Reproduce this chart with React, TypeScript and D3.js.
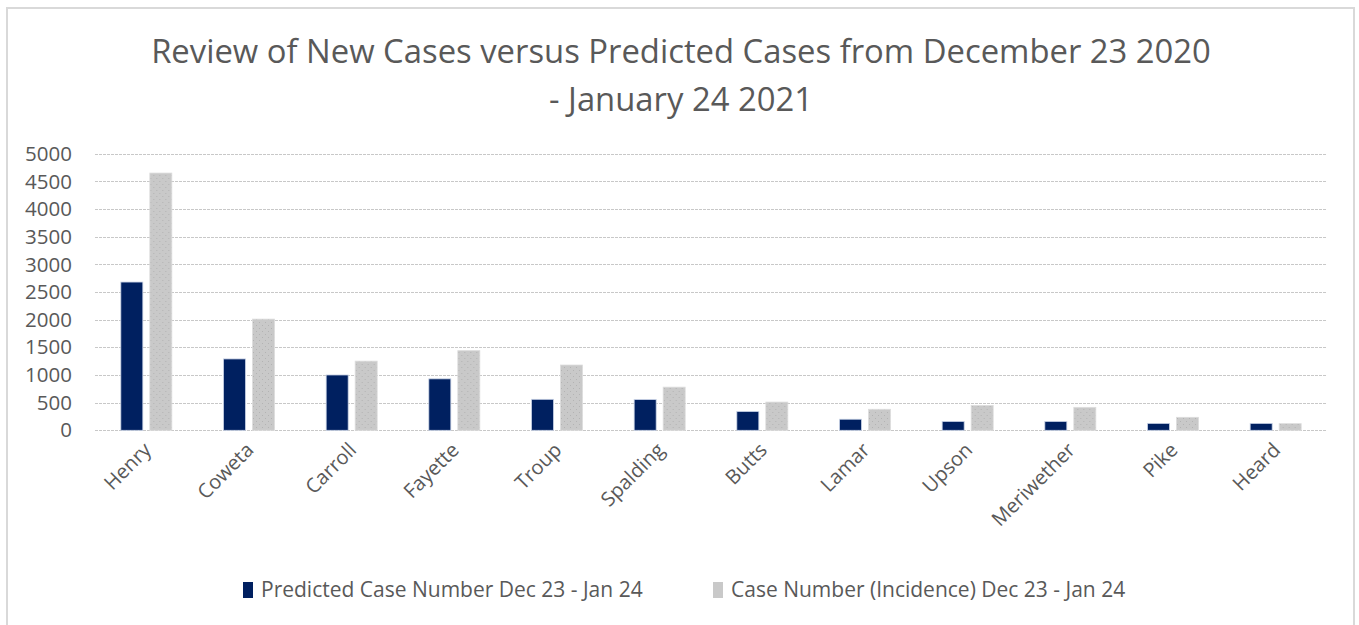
import React, { useEffect, useRef } from "react";
import * as d3 from "d3";

const counties = ["Henry", "Coweta", "Carroll", "Fayette", "Troup", "Spalding", "Butts", "Lamar", "Upson", "Meriwether", "Pike", "Heard"];
const predicted = [2680, 1290, 1000, 930, 560, 555, 340, 200, 160, 160, 125, 125];
const incidence = [4650, 2010, 1250, 1440, 1180, 780, 510, 380, 450, 415, 235, 120];
const yTicks = [0, 500, 1000, 1500, 2000, 2500, 3000, 3500, 4000, 4500, 5000];
const seriesNames = ["Predicted Case Number Dec 23 - Jan 24", "Case Number (Incidence) Dec 23 - Jan 24"];

const W = 1359;
const H = 625;
const FONT = "'Open Sans', sans-serif";
const TEXT = "#595959";

const App: React.FC = () => {
  const ref = useRef<SVGSVGElement | null>(null);

  useEffect(() => {
    if (!ref.current) return;
    const svg = d3.select(ref.current);
    svg.selectAll("*").remove();

    // --- Layout
    const plot = { left: 95, right: 1327, top: 153.7, bottom: 430.3 };

    const x = d3.scaleBand<string>().domain(counties).range([plot.left, plot.right]);
    const y = d3.scaleLinear().domain([0, 5000]).range([plot.bottom, plot.top]);
    const barW = 22;
    const gap = 7;

    // dotted pattern for the grey series
    const defs = svg.append("defs");
    const pat = defs
      .append("pattern")
      .attr("id", "dots")
      .attr("width", 6)
      .attr("height", 6)
      .attr("patternUnits", "userSpaceOnUse");
    pat.append("rect").attr("width", 6).attr("height", 6).attr("fill", "#c9c9c9");
    pat.append("rect").attr("x", 1).attr("y", 1).attr("width", 1).attr("height", 1).attr("fill", "#b3b3b3");
    pat.append("rect").attr("x", 4).attr("y", 4).attr("width", 1).attr("height", 1).attr("fill", "#b3b3b3");

    // chart border
    svg
      .append("path")
      .attr("d", `M7,${H + 2} V8 H1354 V${H + 2}`)
      .attr("fill", "none")
      .attr("stroke", "#d9d9d9")
      .attr("stroke-width", 2);

    // Title
    const title = svg
      .append("text")
      .attr("text-anchor", "middle")
      .style("font-family", FONT)
      .style("font-size", "32.8px")
      .style("fill", TEXT);
    title.append("tspan").attr("x", 681).attr("y", 63).text("Review of New Cases versus Predicted Cases from December 23 2020");
    title.append("tspan").attr("x", 681).attr("y", 111).text("- January 24 2021");

    // Gridlines
    svg
      .append("g")
      .selectAll("line")
      .data(yTicks)
      .join("line")
      .attr("x1", plot.left)
      .attr("x2", plot.right)
      .attr("y1", (d) => Math.round(y(d)) + 0.5)
      .attr("y2", (d) => Math.round(y(d)) + 0.5)
      .attr("stroke", "#c8c8c8")
      .attr("stroke-width", 1)
      .attr("stroke-dasharray", "3,1");

    // Y labels
    svg
      .append("g")
      .selectAll("text")
      .data(yTicks)
      .join("text")
      .attr("x", 72)
      .attr("y", (d) => y(d))
      .attr("dy", "0.35em")
      .attr("text-anchor", "end")
      .style("font-family", FONT)
      .style("font-size", "20.5px")
      .style("fill", TEXT)
      .text((d) => String(d));

    // Bars
    const groups = svg
      .append("g")
      .selectAll("g")
      .data(counties)
      .join("g")
      .attr("transform", (d) => `translate(${x(d)! + x.bandwidth() / 2},0)`);

    groups
      .append("rect")
      .attr("x", -barW - gap / 2)
      .attr("width", barW)
      .attr("y", (_, i) => y(predicted[i]))
      .attr("height", (_, i) => y(0) - y(predicted[i]))
      .attr("fill", "#002060")
      .attr("stroke", "#c9d3e6")
      .attr("stroke-width", 0.8);

    groups
      .append("rect")
      .attr("x", gap / 2)
      .attr("width", barW)
      .attr("y", (_, i) => y(incidence[i]))
      .attr("height", (_, i) => y(0) - y(incidence[i]))
      .attr("fill", "url(#dots)")
      .attr("stroke", "#dcdcdc")
      .attr("stroke-width", 0.8);

    // Category labels
    groups
      .append("text")
      .attr("transform", `translate(1,${plot.bottom + 16}) rotate(-45)`)
      .attr("text-anchor", "end")
      .attr("dy", "0.35em")
      .style("font-family", FONT)
      .style("font-size", "20px")
      .style("fill", TEXT)
      .text((d) => d);

    // Legend
    const legendColors = ["#002060", "#c9c9c9"];
    const legendX = [243, 713];
    const legend = svg
      .append("g")
      .selectAll("g")
      .data(seriesNames)
      .join("g")
      .attr("transform", (_, i) => `translate(${legendX[i]},590)`);
    legend
      .append("rect")
      .attr("x", 0)
      .attr("y", -8)
      .attr("width", 10)
      .attr("height", 16)
      .attr("fill", (_, i) => legendColors[i]);
    legend
      .append("text")
      .attr("x", 18)
      .attr("dy", "0.35em")
      .style("font-family", FONT)
      .style("font-size", "21px")
      .style("fill", TEXT)
      .text((d) => d);
  }, []);

  return (
    <div style={{ position: "absolute", left: 0, top: 0, background: "#fff" }}>
      <svg ref={ref} width={W} height={H} style={{ display: "block" }}></svg>
    </div>
  );
};

export default App;
